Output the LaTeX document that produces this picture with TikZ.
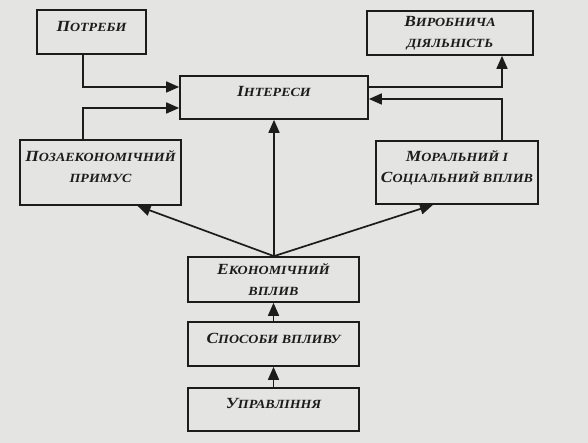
\documentclass[tikz,border=0pt]{standalone}
\usepackage{fontspec}
\setmainfont{Liberation Serif}
\newfontfamily\dfont{Liberation Serif}[FakeStretch=1.12]
\usetikzlibrary{arrows.meta}
\definecolor{paper}{HTML}{E4E4E2}
\definecolor{ink}{HTML}{1C1C1C}
\newcommand{\scx}[2]{{\fontsize{15.5}{21}\selectfont #1}{\fontsize{12.5}{21}\selectfont #2}}
\newcommand{\scy}[1]{{\fontsize{12.5}{21}\selectfont #1}}
\begin{document}
\begin{tikzpicture}[x=1pt,y=-1pt,
  box/.style={draw=ink, line width=1.7pt, fill=paper, align=center, inner sep=2pt,
    font=\dfont\bfseries\itshape\fontsize{12.5}{21}\selectfont, text=ink},
  up/.style={text depth=12pt},
  arr/.style={draw=ink, line width=1.7pt, -{Triangle[length=13pt,width=11pt]}}]
\useasboundingbox[fill=paper] (0,0) rectangle (588,443);
\node[box, up, minimum width=109pt, minimum height=44pt] (potr) at (91.5,32) {\scx{П}{ОТРЕБИ}};
\node[box, minimum width=166pt, minimum height=44pt] (vyr) at (450,33) {\scx{В}{ИРОБНИЧА}\\\scy{ДІЯЛЬНІСТЬ}};
\node[box, up, minimum width=188pt, minimum height=43pt] (int) at (274,97.5) {\scx{І}{НТЕРЕСИ}};
\node[box, up, minimum width=161pt, minimum height=65pt] (poza) at (100.5,172.5) {\scx{П}{ОЗАЕКОНОМІЧНИЙ}\\\scy{ПРИМУС}};
\node[box, up, minimum width=162pt, minimum height=63pt] (mor) at (457,172.5) {\scx{М}{ОРАЛЬНИЙ І}\\\scx{С}{ОЦІАЛЬНИЙ ВПЛИВ}};
\node[box, minimum width=171pt, minimum height=45pt] (ek) at (273.5,279.5) {\scx{Е}{КОНОМІЧНИЙ}\\\scy{ВПЛИВ}};
\node[box, up, minimum width=171pt, minimum height=44pt] (spos) at (273.5,344) {\scx{С}{ПОСОБИ ВПЛИВУ}};
\node[box, up, minimum width=171pt, minimum height=43pt] (upr) at (273.5,409.5) {\scx{У}{ПРАВЛІННЯ}};
\coordinate (xl) at (83,0);
\coordinate (xr) at (502,0);
\draw[arr] (potr.south -| xl) |- ([yshift=10.5]int.west);
\draw[arr] (poza.north -| xl) |- ([yshift=-10.5]int.west);
\draw[arr] ([yshift=10.5]int.east) -| (vyr.south -| xr);
\draw[arr] (mor.north -| xr) |- ([yshift=-1.5]int.east);
\draw[arr] (ek.north -| int.south) -- (int.south);
\draw[arr] (ek.north -| int.south) -- ([xshift=37]poza.south);
\draw[arr] (ek.north -| int.south) -- ([xshift=-24]mor.south);
\draw[arr] (spos.north) -- (ek.south);
\draw[arr] (upr.north) -- (spos.south);
\end{tikzpicture}
\end{document}
